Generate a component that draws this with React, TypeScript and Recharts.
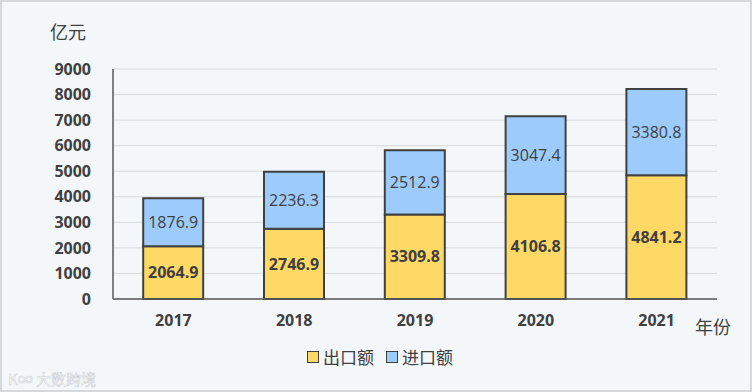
import React from 'react'
import { BarChart, Bar, XAxis, YAxis, CartesianGrid, LabelList } from 'recharts'

const years = ['2017', '2018', '2019', '2020', '2021']
const exports = [2064.9, 2746.9, 3309.8, 4106.8, 4841.2]
const imports = [1876.9, 2236.3, 2512.9, 3047.4, 3380.8]
const yTicks = [0, 1000, 2000, 3000, 4000, 5000, 6000, 7000, 8000, 9000]

const data = years.map((y, i) => ({ year: y, exp: exports[i], imp: imports[i] }))

const numFont = '"Open Sans", "Noto Sans", sans-serif'
const cjkFont = '"Noto Sans CJK SC", sans-serif'

function LegendBox() {
  const item = (color: string, text: string) => (
    <div style={{ display: 'flex', alignItems: 'center', marginRight: 12 }}>
      <span style={{ width: 10, height: 10, background: color, border: '1.5px solid #404040', marginRight: 4 }} />
      <span style={{ fontSize: 17, color: '#404040', fontFamily: cjkFont }}>{text}</span>
    </div>
  )
  return (
    <div style={{ position: 'absolute', top: 342, left: 0, width: 752, display: 'flex', justifyContent: 'center', paddingLeft: 16, boxSizing: 'border-box' }}>
      {item('#FFD966', '出口额')}
      {item('#9DCBFB', '进口额')}
    </div>
  )
}

export default function App() {
  return (
    <div style={{ position: 'absolute', top: 0, left: 0, width: 752, height: 392, background: '#F3F7FA', border: '2px solid #D6D9DC', boxSizing: 'border-box', overflow: 'hidden' }}>
      <style>{`body{margin:0}`}</style>
      <div style={{ position: 'absolute', left: 48, top: 16, fontSize: 18, color: '#404040', fontFamily: cjkFont }}>亿元</div>
      <div style={{ position: 'absolute', left: 693, top: 311, fontSize: 18, color: '#404040', fontFamily: cjkFont }}>年份</div>
      <div style={{ position: 'absolute', left: 6, top: 366, fontSize: 15, color: '#FFFFFF', fontFamily: cjkFont, WebkitTextStroke: '0.5px #C8CDD2' }}>K∞ 大数跨境</div>
      <div style={{ position: 'absolute', left: -2, top: -2 }}>
        <BarChart width={752} height={392} data={data} margin={{ top: 69, right: 35, bottom: 63, left: 0 }} barCategoryGap="25%">
          <CartesianGrid vertical={false} stroke="#D9D9D9" />
          <XAxis
            dataKey="year"
            height={30}
            tickLine={false}
            tickSize={0}
            tickMargin={16}
            axisLine={{ stroke: '#595959', strokeWidth: 1.5 }}
            tick={{ fontSize: 16, fontWeight: 700, fill: '#404040', fontFamily: numFont }}
          />
          <YAxis
            width={113}
            domain={[0, 9000]}
            ticks={yTicks}
            interval={0}
            tickLine={false}
            tickSize={0}
            tickMargin={22}
            axisLine={{ stroke: '#595959', strokeWidth: 1.5 }}
            tick={{ fontSize: 16, fontWeight: 700, fill: '#404040', fontFamily: numFont }}
          />
          <Bar dataKey="exp" stackId="a" fill="#FFD966" stroke="#404040" strokeWidth={2} isAnimationActive={false}>
            <LabelList dataKey="exp" position="center" style={{ fontSize: 16, fontWeight: 700, fill: '#404040', fontFamily: numFont }} />
          </Bar>
          <Bar dataKey="imp" stackId="a" fill="#9DCBFB" stroke="#404040" strokeWidth={2} isAnimationActive={false}>
            <LabelList dataKey="imp" position="center" style={{ fontSize: 16, fill: '#404040', fontFamily: numFont }} />
          </Bar>
        </BarChart>
      </div>
      <LegendBox />
    </div>
  )
}
